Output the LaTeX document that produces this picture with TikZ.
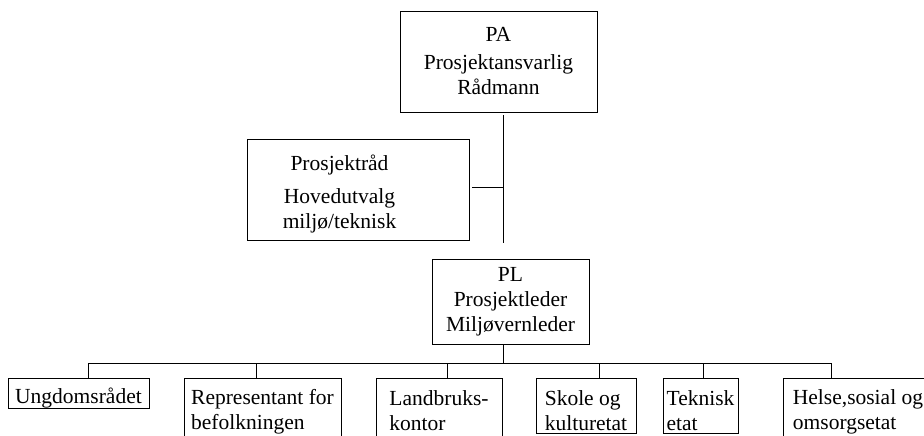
\documentclass[tikz,border=0pt]{standalone}
\usepackage{fontspec}
\setmainfont{Liberation Serif}
\newcommand{\lowstrut}{\rule{0pt}{24pt}}

\begin{document}
\begin{tikzpicture}[x=1pt,y=-1pt,
  box/.style={draw, line width=0.8pt, inner sep=0pt, align=center, font=\fontsize{21.5}{25}\selectfont},
  unit/.style={box, align=left, anchor=north},
  link/.style={line width=0.8pt}]
\useasboundingbox (0,0) rectangle (924,436);
\clip (0,0) rectangle (924,436);

%Shape: Rectangle [PA]
\node [box, minimum width=197, minimum height=101] (pa) at (498.5,61.5) {PA\\[3pt]Prosjektansvarlig\\Rådmann};
%Shape: Rectangle [Prosjektraad]
\node [box, minimum width=222, minimum height=101] (rad) at (358,189.5) {\begin{tabular}{@{}c@{}}\rule{0pt}{27.5pt}Prosjektråd\\[8pt]Hovedutvalg\\miljø/teknisk\end{tabular}\hspace*{37pt}};
%Shape: Rectangle [PL]
\node [box, minimum width=157, minimum height=85] (pl) at (510.5,301.5) {PL\\Prosjektleder\\Miljøvernleder};

%Shape: Rectangle [etater]
\node [unit, minimum width=141, minimum height=30] (ung) at (78.5,378) {\lowstrut Ungdomsrådet};
\node [unit, minimum width=157, minimum height=66] (rep) at (262.5,378) {Representant for\\befolkningen};
\node [unit, minimum width=126, minimum height=64] (land) at (439,378) {Landbruks-\\kontor};
\node [unit, minimum width=100, minimum height=55] (skole) at (586,378) {\lowstrut Skole og\\kulturetat};
\node [unit, minimum width=75, minimum height=55] (tek) at (700.5,378) {\lowstrut Teknisk\\etat};
\node [unit, minimum width=150, minimum height=66] (helse) at (858,378) {Helse,sosial og\\omsorgsetat};

%Straight Lines
\coordinate (trunk) at (503.5,243);
\coordinate (radjoin) at (503.5,187);
\coordinate (plstem) at (503.5,363);
\coordinate (busL) at (88,363);
\coordinate (busR) at (831,363);
\draw [link] (pa.south -| trunk) ++(0,3) -- (trunk);
\draw [link] (radjoin -| rad.east) ++(3,0) -- (radjoin);
\draw [link] (pl.south -| plstem) -- (plstem);
\draw [link] (busL) -- (busR);
\foreach \b/\x in {ung/88,rep/256,land/447,skole/599,tek/703,helse/831}
  \draw [link] (\x,363) coordinate (drop) -- (drop |- \b.north);

\end{tikzpicture}
\end{document}
